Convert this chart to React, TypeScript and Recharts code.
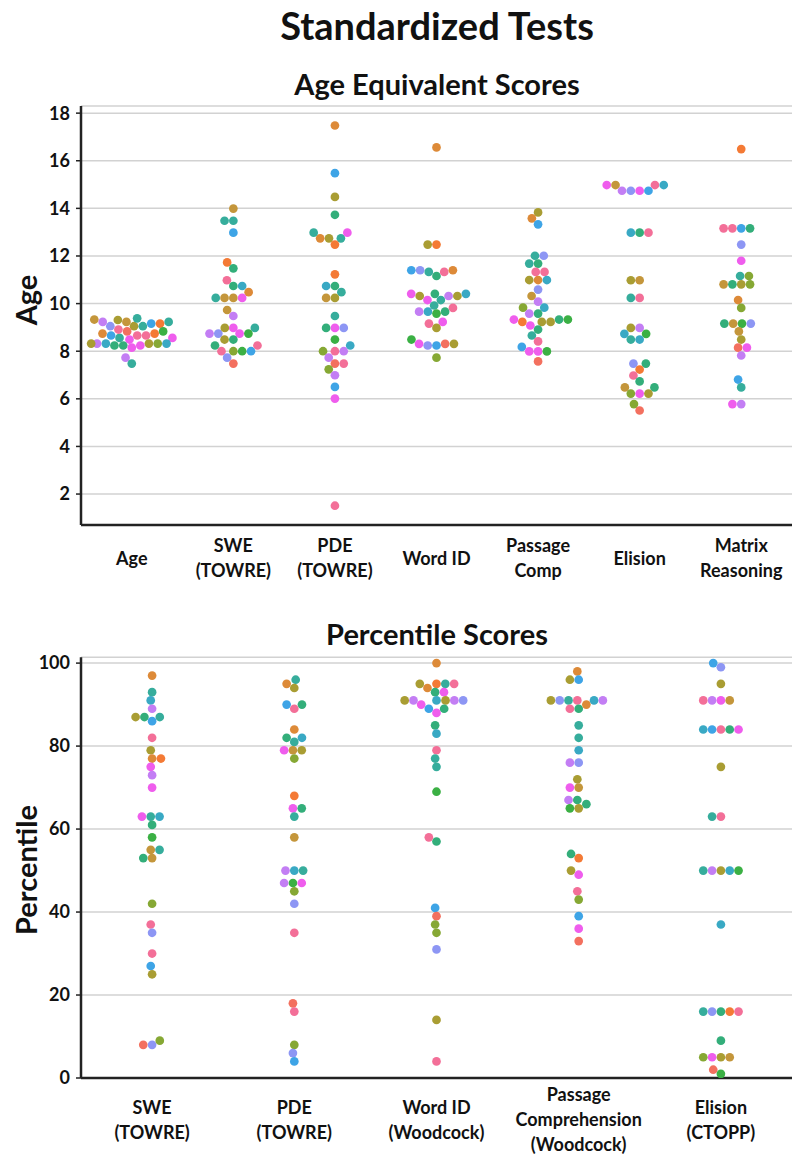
import React from 'react';
import { ScatterChart, Scatter, XAxis, YAxis, CartesianGrid, Cell } from 'recharts';

// ---------- data ----------
const ageCategories = ['Age', 'SWE\n(TOWRE)', 'PDE\n(TOWRE)', 'Word ID', 'Passage\nComp', 'Elision', 'Matrix\nReasoning'];
const pctCategories = ['SWE\n(TOWRE)', 'PDE\n(TOWRE)', 'Word ID\n(Woodcock)', 'Passage\nComprehension\n(Woodcock)', 'Elision\n(CTOPP)'];
const ageTicks = [2, 4, 6, 8, 10, 12, 14, 16, 18];
const pctTicks = [0, 20, 40, 60, 80, 100];

// [value, subject hue]
const aeAge: [number, string][] = [
  [9.33,'b'],[9.23,'b'],[9.16,'bl'],[9.05,'y'],[9.38,'t'],[9.05,'t'],[9.31,'y'],[9.05,'pw'],[9.16,'o'],[9.23,'lv'],[9.23,'t'],
  [8.83,'r'],[8.74,'o'],[8.66,'p'],[8.56,'t'],[8.91,'p'],[8.56,'m'],[8.66,'p'],[8.66,'bl'],[8.74,'ob'],[8.83,'g'],[8.49,'m'],
  [8.32,'y'],[8.32,'tb'],[8.32,'g1'],[8.24,'gt'],[8.24,'m'],[8.15,'m'],[8.24,'gt'],[8.32,'lv'],[8.32,'tb'],[8.32,'y'],[7.73,'lv'],[7.48,'t'],
];
const aeSWE: [number, string][] = [
  [13.99,'b'],[13.48,'t'],[13.48,'t'],[12.98,'bl'],[11.73,'o'],[11.48,'gt'],[10.98,'p'],[10.74,'gt'],[10.74,'tb'],[10.48,'ob'],
  [10.24,'b'],[10.24,'b'],[10.24,'m'],[10.24,'t'],[9.73,'b'],[9.48,'lv'],[8.98,'m'],[8.74,'m'],[8.74,'pw'],[8.98,'y'],[8.98,'t'],
  [8.74,'g'],[8.74,'lv'],[8.49,'gt'],[8.49,'y'],[8.24,'gt'],[8.24,'p'],[8.0,'g1'],[8.0,'g'],[8.0,'p'],[8.0,'bl'],[7.73,'pw'],[7.48,'r'],
];
const aePDE: [number, string][] = [
  [17.48,'ob'],[15.48,'bl'],[14.48,'y'],[13.73,'gt'],[12.74,'y'],[12.74,'t'],[12.98,'m'],[12.74,'ob'],[12.98,'t'],[12.48,'o'],
  [11.23,'o'],[10.74,'gt'],[10.74,'tb'],[10.48,'t'],[10.24,'y'],[10.24,'b'],[9.48,'t'],[8.98,'m'],[8.98,'gt'],[8.98,'pw'],
  [8.49,'g'],[8.24,'tb'],[8.0,'p'],[8.0,'lv'],[8.0,'g1'],[7.73,'lv'],[7.48,'r'],[7.48,'p'],[7.24,'g1'],[6.99,'lv'],[6.5,'bl'],[6.01,'m'],[1.51,'p'],
];
const aeWordID: [number, string][] = [
  [16.56,'ob'],[12.48,'o'],[12.48,'y'],[11.4,'pw'],[11.33,'t'],[11.16,'gt'],[11.33,'p'],[11.4,'ob'],[11.4,'bl'],[10.41,'gt'],
  [10.32,'lv'],[10.15,'t'],[10.41,'m'],[10.15,'m'],[10.32,'y'],[10.32,'y'],[10.41,'tb'],[9.92,'t'],[9.66,'tb'],[9.66,'gt'],
  [9.58,'g'],[9.66,'lv'],[9.82,'p'],[9.16,'p'],[9.23,'m'],[8.98,'y'],[8.49,'g'],[8.31,'r'],[8.24,'bl'],[8.24,'pw'],[8.31,'m'],[8.31,'y'],[7.73,'g1'],
];
const aePassage: [number, string][] = [
  [13.83,'y'],[13.58,'ob'],[13.33,'bl'],[12.01,'t'],[12.01,'pw'],[11.68,'gt'],[11.68,'t'],[11.33,'p'],[11.33,'p'],[10.99,'ob'],
  [10.99,'y'],[10.99,'tb'],[10.59,'pw'],[10.32,'b'],[10.08,'lv'],[9.83,'tb'],[9.83,'g1'],[9.58,'gt'],[9.58,'lv'],[9.33,'gt'],
  [9.23,'y'],[9.23,'y'],[9.23,'o'],[9.33,'m'],[9.33,'g'],[9.08,'m'],[8.91,'gt'],[8.66,'t'],[8.41,'p'],[8.18,'bl'],[7.99,'m'],[7.99,'m'],[7.99,'g'],[7.57,'r'],
];
const aeElision: [number, string][] = [
  [14.98,'p'],[14.98,'b'],[14.74,'m'],[14.74,'pw'],[14.74,'bl'],[14.74,'lv'],[14.98,'tb'],[14.98,'m'],[12.98,'gt'],[12.98,'tb'],
  [12.98,'p'],[10.98,'b'],[10.98,'y'],[10.24,'p'],[10.24,'t'],[8.98,'lv'],[8.98,'y'],[8.73,'g'],[8.73,'tb'],[8.49,'tb'],[8.49,'t'],
  [7.48,'pw'],[7.48,'gt'],[7.23,'o'],[6.98,'p'],[6.73,'gt'],[6.48,'b'],[6.48,'gt'],[6.22,'m'],[6.22,'g1'],[6.22,'y'],[5.78,'g1'],[5.51,'r'],
];
const aeMatrix: [number, string][] = [
  [16.49,'o'],[13.16,'bl'],[13.16,'p'],[13.16,'gt'],[13.16,'p'],[12.48,'pw'],[11.8,'m'],[11.16,'t'],[11.16,'g1'],[10.81,'y'],
  [10.81,'gt'],[10.81,'g1'],[10.81,'b'],[10.15,'ob'],[9.82,'g1'],[9.16,'g'],[9.16,'b'],[9.16,'pw'],[9.16,'gt'],[8.83,'b'],
  [8.49,'y'],[8.15,'r'],[8.15,'m'],[7.82,'lv'],[6.81,'bl'],[6.48,'t'],[5.78,'lv'],[5.78,'m'],
];

const pcSWE: [number, string][] = [
  [97,'ob'],[93,'t'],[91,'tb'],[89,'lv'],[87,'gt'],[87,'t'],[86,'bl'],[87,'y'],[82,'p'],[79,'y'],[77,'ob'],[77,'o'],[75,'m'],
  [73,'lv'],[70,'m'],[63,'t'],[63,'tb'],[63,'m'],[61,'gt'],[58,'g'],[55,'b'],[55,'t'],[53,'b'],[53,'gt'],[42,'g1'],[37,'p'],
  [35,'pw'],[30,'p'],[27,'bl'],[25,'y'],[8,'pw'],[8,'r'],[9,'g1'],
];
const pcPDE: [number, string][] = [
  [96,'t'],[95,'ob'],[94,'y'],[90,'bl'],[89,'p'],[90,'gt'],[84,'ob'],[82,'gt'],[81,'t'],[82,'tb'],[79,'b'],[79,'y'],[79,'m'],
  [77,'g1'],[68,'o'],[65,'m'],[65,'gt'],[63,'t'],[58,'b'],[50,'tb'],[50,'lv'],[50,'t'],[47,'g'],[47,'m'],[47,'lv'],[45,'g1'],
  [42,'pw'],[35,'p'],[18,'r'],[16,'p'],[8,'g1'],[6,'pw'],[4,'bl'],
];
const pcWordID: [number, string][] = [
  [100,'ob'],[95,'o'],[94,'ob'],[95,'t'],[95,'y'],[95,'p'],[93,'gt'],[93,'m'],[91,'tb'],[91,'y'],[90,'m'],[89,'bl'],[91,'lv'],
  [88,'m'],[91,'lv'],[91,'pw'],[91,'y'],[89,'gt'],[85,'gt'],[83,'tb'],[79,'p'],[77,'t'],[75,'t'],[69,'g'],[58,'p'],[57,'gt'],
  [41,'bl'],[39,'r'],[37,'g1'],[35,'g1'],[31,'pw'],[14,'y'],[4,'p'],
];
const pcPassage: [number, string][] = [
  [98,'ob'],[96,'bl'],[96,'y'],[91,'p'],[91,'t'],[91,'tb'],[91,'pw'],[91,'lv'],[91,'y'],[89,'gt'],[89,'p'],[90,'ob'],[85,'t'],
  [82,'t'],[79,'tb'],[76,'pw'],[76,'lv'],[72,'y'],[70,'b'],[70,'m'],[67,'gt'],[67,'lv'],[66,'gt'],[65,'y'],[65,'g'],[54,'gt'],
  [53,'o'],[50,'y'],[49,'m'],[45,'p'],[43,'g1'],[39,'bl'],[36,'m'],[33,'r'],
];
const pcElision: [number, string][] = [
  [100,'bl'],[99,'pw'],[95,'y'],[91,'m'],[91,'lv'],[91,'b'],[91,'p'],[84,'p'],[84,'bl'],[84,'gt'],[84,'tb'],[84,'m'],[75,'y'],
  [63,'p'],[63,'t'],[50,'y'],[50,'lv'],[50,'tb'],[50,'t'],[50,'g'],[37,'tb'],[16,'gt'],[16,'pw'],[16,'o'],[16,'t'],[16,'p'],
  [9,'gt'],[5,'y'],[5,'m'],[5,'b'],[5,'g1'],[2,'r'],[1,'g'],
];

const ageColumns = [aeAge, aeSWE, aePDE, aeWordID, aePassage, aeElision, aeMatrix];
const pctColumns = [pcSWE, pcPDE, pcWordID, pcPassage, pcElision];

// ---------- style ----------
const HUE: Record<string, string> = {
  r: '#f3705f', p: '#f36f98', o: '#f47a35', ob: '#dd8a38', b: '#c4963b', y: '#a99d33', g1: '#86a834',
  g: '#3bb044', gt: '#33ae7a', t: '#36ad9c', tb: '#39a9c4', bl: '#3ea4e6', pw: '#8d96f4', lv: '#c37ef4', m: '#ef5ded',
};
const FONT = 'Lato, "DejaVu Sans", sans-serif';
const W = 793;
const PLOT_LEFT = 81;
const PLOT_RIGHT = 1;
const PLOT_W = W - PLOT_LEFT - PLOT_RIGHT;
const DOT_R = 4.35;
const COLL_R = 4.2;

// seaborn-style beeswarm (pixel space), returns offsets in px
function beeswarm(values: number[], pxPerUnit: number, r: number, gutter: number): number[] {
  const items = values.map((v, i) => ({ i, y: v * pxPerUnit }));
  items.sort((a, b) => a.y - b.y);
  const placed: { x: number; y: number }[] = [];
  const out: number[] = new Array(values.length).fill(0);
  for (const it of items) {
    const nb: { x: number; y: number }[] = [];
    for (let k = placed.length - 1; k >= 0; k--) {
      if (it.y - placed[k].y < 2 * r) nb.unshift(placed[k]);
      else break;
    }
    const cands: number[] = [0];
    let leftFirst = true;
    for (const n of nb) {
      const dy = it.y - n.y;
      const dx = Math.sqrt(Math.max(4 * r * r - dy * dy, 0)) * 1.05;
      if (leftFirst) cands.push(n.x - dx, n.x + dx);
      else cands.push(n.x + dx, n.x - dx);
      leftFirst = !leftFirst;
    }
    const order = cands.map((c, k) => ({ c, k })).sort((a, b) => Math.abs(a.c) - Math.abs(b.c) || a.k - b.k);
    let chosen = order[0].c;
    for (const o of order) {
      const ok = nb.every((n) => (n.x - o.c) ** 2 + (n.y - it.y) ** 2 >= 4 * r * r - 1e-9);
      if (ok) { chosen = o.c; break; }
    }
    placed.push({ x: chosen, y: it.y });
    out[it.i] = Math.max(-gutter, Math.min(gutter, chosen));
  }
  return out;
}

function buildPoints(cols: [number, string][][], pxPerUnit: number) {
  const pxPerCat = PLOT_W / cols.length;
  const pts: { x: number; y: number; fill: string }[] = [];
  cols.forEach((col, ci) => {
    const offs = beeswarm(col.map((d) => d[0]), pxPerUnit, COLL_R, pxPerCat * 0.4);
    col.forEach((d, k) => pts.push({ x: ci + offs[k] / pxPerCat, y: d[0], fill: HUE[d[1]] }));
  });
  return pts;
}

const makeXTick = (labels: string[], centerOffset: number) => (props: any) => {
  const { x, y, payload } = props;
  const lines = labels[payload.value] ? labels[payload.value].split('\n') : [];
  const lh = 25;
  const top = y + centerOffset - ((lines.length - 1) * lh) / 2;
  return (
    <g>
      {lines.map((ln, k) => (
        <text key={k} x={x} y={top + k * lh} textAnchor="middle" dominantBaseline="central"
          fontFamily={FONT} fontWeight={700} fontSize={18} fill="#111">{ln}</text>
      ))}
    </g>
  );
};

const Dot = (props: any) => <circle cx={props.cx} cy={props.cy} r={DOT_R} fill={props.payload.fill} />;

function SwarmChart(p: {
  cols: [number, string][][]; labels: string[]; domain: [number, number]; ticks: number[];
  height: number; top: number; plotH: number; tickCenter: number;
}) {
  const pxPerUnit = p.plotH / (p.domain[1] - p.domain[0]);
  const pts = buildPoints(p.cols, pxPerUnit);
  const n = p.cols.length;
  const xAxisH = 70;
  const bottom = p.height - p.top - p.plotH - xAxisH;
  return (
    <ScatterChart width={W} height={p.height} margin={{ top: p.top, right: PLOT_RIGHT, left: 0, bottom }}>
      <CartesianGrid vertical={false} stroke="#d2d2d2" strokeWidth={1.5} />
      <XAxis type="number" dataKey="x" domain={[-0.5, n - 0.5]} ticks={Array.from({ length: n }, (_, i) => i)}
        height={xAxisH} tickLine={false} tickSize={0} tickMargin={0} interval={0}
        axisLine={{ stroke: '#222', strokeWidth: 2.5 }} tick={makeXTick(p.labels, p.tickCenter)} allowDataOverflow />
      <YAxis type="number" dataKey="y" domain={p.domain} ticks={p.ticks} width={PLOT_LEFT} interval={0}
        tickSize={5} tickMargin={6} tickLine={{ stroke: '#222', strokeWidth: 1.5 }}
        axisLine={{ stroke: '#222', strokeWidth: 2.5 }} allowDataOverflow
        tick={{ fontFamily: FONT, fontWeight: 700, fontSize: 18, fill: '#111' }} />
      <Scatter data={pts} isAnimationActive={false} shape={Dot}>
        {pts.map((d, i) => <Cell key={i} fill={d.fill} />)}
      </Scatter>
    </ScatterChart>
  );
}

export default function App() {
  const textStyle = { fontFamily: FONT, fontWeight: 700, fill: '#111' } as const;
  return (
    <div style={{ position: 'absolute', left: 0, top: 0, width: W, height: 1154, background: '#fff', overflow: 'hidden' }}>
      <div style={{ position: 'absolute', left: 0, top: 0 }}>
        <SwarmChart cols={ageColumns} labels={ageCategories} domain={[0.7, 18.3]} ticks={ageTicks}
          height={600} top={106} plotH={419} tickCenter={32.5} />
      </div>
      <div style={{ position: 'absolute', left: 0, top: 600 }}>
        <SwarmChart cols={pctColumns} labels={pctCategories} domain={[0, 101.4]} ticks={pctTicks}
          height={554} top={57.3} plotH={420.7} tickCenter={41} />
      </div>
      <svg width={W} height={1154} style={{ position: 'absolute', left: 0, top: 0, pointerEvents: 'none' }}>
        <text x={437} y={40} textAnchor="middle" fontSize={38} {...textStyle}>Standardized Tests</text>
        <text x={437} y={95} textAnchor="middle" fontSize={29} {...textStyle}>Age Equivalent Scores</text>
        <text x={437} y={645} textAnchor="middle" fontSize={29} {...textStyle}>Percentile Scores</text>
        <text transform="translate(37,300) rotate(-90)" textAnchor="middle" fontSize={29} {...textStyle}>Age</text>
        <text transform="translate(37,870) rotate(-90)" textAnchor="middle" fontSize={29} {...textStyle}>Percentile</text>
      </svg>
    </div>
  );
}
